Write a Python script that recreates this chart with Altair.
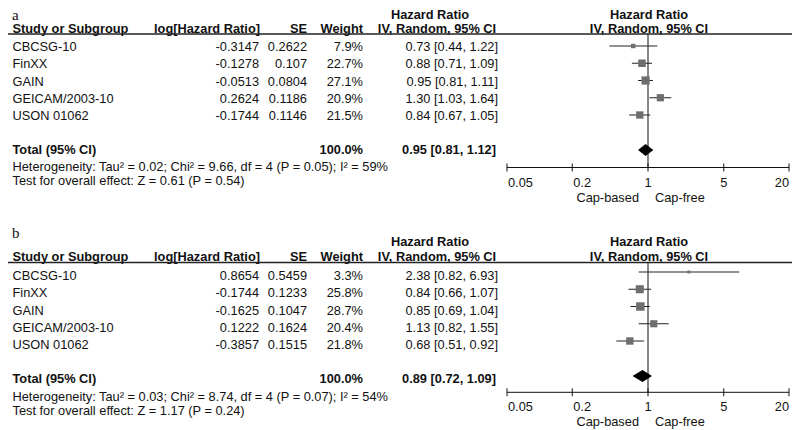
import altair as alt
import pandas as pd

# ---------------- data ----------------
studies = ["CBCSG-10", "FinXX", "GAIN", "GEICAM/2003-10", "USON 01062"]

a_loghr = [-0.3147, -0.1278, -0.0513, 0.2624, -0.1744]
a_se = [0.2622, 0.107, 0.0804, 0.1186, 0.1146]
a_weight = [7.9, 22.7, 27.1, 20.9, 21.5]
a_hr = [0.73, 0.88, 0.95, 1.30, 0.84]
a_lo = [0.44, 0.71, 0.81, 1.03, 0.67]
a_hi = [1.22, 1.09, 1.11, 1.64, 1.05]
a_total = [0.95, 0.81, 1.12]
a_het = "Heterogeneity: Tau² = 0.02; Chi² = 9.66, df = 4 (P = 0.05); I² = 59%"
a_test = "Test for overall effect: Z = 0.61 (P = 0.54)"

b_loghr = [0.8654, -0.1744, -0.1625, 0.1222, -0.3857]
b_se = [0.5459, 0.1233, 0.1047, 0.1624, 0.1515]
b_weight = [3.3, 25.8, 28.7, 20.4, 21.8]
b_hr = [2.38, 0.84, 0.85, 1.13, 0.68]
b_lo = [0.82, 0.66, 0.69, 0.82, 0.51]
b_hi = [6.93, 1.07, 1.04, 1.55, 0.92]
b_total = [0.89, 0.72, 1.09]
b_het = "Heterogeneity: Tau² = 0.03; Chi² = 8.74, df = 4 (P = 0.07); I² = 54%"
b_test = "Test for overall effect: Z = 1.17 (P = 0.24)"

panel_labels = ["a", "b"]
tick_values = [0.05, 0.2, 1, 5, 20]
tick_labels = ["0.05", "0.2", "1", "5", "20"]
favour_labels = ["Cap-based", "Cap-free"]
col_headers = ["Study or Subgroup", "log[Hazard Ratio]", "SE", "Weight",
               "Hazard Ratio", "IV, Random, 95% CI"]
total_label = "Total (95% CI)"
total_weight = "100.0%"

# ---------------- layout (local px) ----------------
W, H = 784, 422
FONT = "Liberation Sans, Arial, Helvetica, sans-serif"
SERIF = "Liberation Serif, Times New Roman, serif"
TXT = "#111111"
REG = 12.8
BOLD = 12.8
ROW_STEP = 17.25
LAYOUT = {
    "a": dict(label_y=0, hr_head_y=10.5, col_head_y=24.5, line_y=26, row0=39, mark_dy=-1,
              total_y=142, diamond_y=142, het_y=159, test_y=173, axis_y=159.5),
    "b": dict(label_y=217.5, hr_head_y=237.5, col_head_y=253, line_y=254.5, row0=268, mark_dy=-4,
              total_y=371.3, diamond_y=368, het_y=389, test_y=403, axis_y=384.3),
}
X_STUDY, X_LOG, X_SE, X_W, X_HRT, X_TOT = 4.5, 251, 299, 355, 490, 488
X_HRHEAD, X_IVHEAD, X_FHEAD = 422, 429, 641

XS = alt.Scale(type="log", domain=[0.05, 20], range=[499, 781], nice=False)
YS = alt.Scale(domain=[0, H], range=[0, H], nice=False, zero=False)

# ---------------- tables ----------------
panels = {
    "a": dict(loghr=a_loghr, se=a_se, w=a_weight, hr=a_hr, lo=a_lo, hi=a_hi,
              total=a_total, het=a_het, test=a_test),
    "b": dict(loghr=b_loghr, se=b_se, w=b_weight, hr=b_hr, lo=b_lo, hi=b_hi,
              total=b_total, het=b_het, test=b_test),
}

rows, prow, ticks, dia = [], [], [], []
for p in panel_labels:
    d, L = panels[p], LAYOUT[p]
    for i, s in enumerate(studies):
        yt = L["row0"] + i * ROW_STEP
        rows.append(dict(panel=p, name=s, loghr=str(d["loghr"][i]), se=str(d["se"][i]),
                         wtxt=f"{d['w'][i]:.1f}%",
                         hrtxt=f"{d['hr'][i]:.2f} [{d['lo'][i]:.2f}, {d['hi'][i]:.2f}]",
                         hr=d["hr"][i], lo=d["lo"][i], hi=d["hi"][i], w=d["w"][i],
                         y=yt, ym=yt + L["mark_dy"]))
    t = d["total"]
    prow.append(dict(panel=p, label=p, het=d["het"], test=d["test"],
                     tot=f"{t[0]:.2f} [{t[1]:.2f}, {t[2]:.2f}]",
                     ref=1.0, axlo=tick_values[0], axhi=tick_values[-1], **L))
    for v, lab in zip(tick_values, tick_labels):
        ticks.append(dict(panel=p, v=v, lab=lab, y1=L["axis_y"] - 4, y2=L["axis_y"] + 4,
                          yl=L["axis_y"] + 15))
    yc = L["diamond_y"]
    dia += [dict(panel=p, x=t[1], y1=yc, y2=yc),
            dict(panel=p, x=t[0], y1=yc - 6, y2=yc + 6),
            dict(panel=p, x=t[2], y1=yc, y2=yc)]

rows_df = pd.DataFrame(rows)
p_df = pd.DataFrame(prow)
t_df = pd.DataFrame(ticks)
d_df = pd.DataFrame(dia)


def Y(f):
    return alt.Y(f"{f}:Q", scale=YS, axis=None)


def X(f):
    return alt.X(f"{f}:Q", scale=XS, axis=None)


def text(df, field, x, yf, align="left", bold=False, size=REG, baseline="middle",
         font=FONT, value=None, dx=0):
    enc = dict(x=alt.value(x) if not isinstance(x, str) else X(x), y=Y(yf),
               text=alt.value(value) if value is not None else alt.Text(f"{field}:N"))
    return alt.Chart(df).mark_text(
        align=align, baseline=baseline, font=font, fontSize=size, dx=dx,
        fontWeight="bold" if bold else "normal", color=TXT).encode(**enc)


layers = []
# panel letters
layers.append(text(p_df, "label", 4, "label_y", font=SERIF, size=15, baseline="top"))
# headers
layers.append(text(p_df, None, X_STUDY, "col_head_y", bold=True, size=BOLD, baseline="alphabetic", value=col_headers[0]))
layers.append(text(p_df, None, X_LOG + 1, "col_head_y", align="right", bold=True, size=BOLD, baseline="alphabetic", value=col_headers[1]))
layers.append(text(p_df, None, X_SE, "col_head_y", align="right", bold=True, size=BOLD, baseline="alphabetic", value=col_headers[2]))
layers.append(text(p_df, None, X_W, "col_head_y", align="right", bold=True, size=BOLD, baseline="alphabetic", value=col_headers[3]))
layers.append(text(p_df, None, X_HRHEAD, "hr_head_y", align="center", bold=True, size=BOLD, baseline="alphabetic", value=col_headers[4]))
layers.append(text(p_df, None, X_IVHEAD, "col_head_y", align="center", bold=True, size=BOLD, baseline="alphabetic", value=col_headers[5]))
layers.append(text(p_df, None, X_FHEAD, "hr_head_y", align="center", bold=True, size=BOLD, baseline="alphabetic", value=col_headers[4]))
layers.append(text(p_df, None, X_FHEAD, "col_head_y", align="center", bold=True, size=BOLD, baseline="alphabetic", value=col_headers[5]))
# header line
layers.append(alt.Chart(p_df).mark_rule(color="#222", strokeWidth=1.3).encode(
    x=alt.value(0), x2=alt.value(W), y=Y("line_y")))
# study rows
layers.append(text(rows_df, "name", X_STUDY, "y"))
layers.append(text(rows_df, "loghr", X_LOG, "y", align="right"))
layers.append(text(rows_df, "se", X_SE, "y", align="right"))
layers.append(text(rows_df, "wtxt", X_W, "y", align="right"))
layers.append(text(rows_df, "hrtxt", X_HRT, "y", align="right"))
# totals
layers.append(text(p_df, None, X_STUDY, "total_y", bold=True, size=BOLD, value=total_label))
layers.append(text(p_df, None, X_W, "total_y", align="right", bold=True, size=BOLD, value=total_weight))
layers.append(text(p_df, "tot", X_TOT, "total_y", align="right", bold=True, size=BOLD))
layers.append(text(p_df, "het", X_STUDY, "het_y"))
layers.append(text(p_df, "test", X_STUDY, "test_y"))
# forest: reference line, axis, ticks
layers.append(alt.Chart(p_df).mark_rule(color="#111", strokeWidth=1).encode(
    x=X("ref"), y=Y("line_y"), y2="axis_y:Q"))
layers.append(alt.Chart(p_df).mark_rule(color="#111", strokeWidth=1).encode(
    x=X("axlo"), x2="axhi:Q", y=Y("axis_y")))
layers.append(alt.Chart(t_df).mark_rule(color="#111", strokeWidth=1).encode(
    x=X("v"), y=Y("y1"), y2="y2:Q"))
layers.append(text(t_df[t_df.v < 1], "lab", "v", "yl", align="left", dx=1))
layers.append(text(t_df[(t_df.v >= 1) & (t_df.v < 20)], "lab", "v", "yl", align="center"))
layers.append(text(t_df[t_df.v >= 20], "lab", "v", "yl", align="right"))
p_df2 = p_df.assign(cap_y=p_df.axis_y + 30)
layers.append(text(p_df2, None, "ref", "cap_y", align="right", dx=-9, value=favour_labels[0]))
layers.append(text(p_df2, None, "ref", "cap_y", align="left", dx=7, value=favour_labels[1]))
# CI lines and squares
layers.append(alt.Chart(rows_df).mark_rule(color="#222", strokeWidth=1).encode(
    x=X("lo"), x2="hi:Q", y=Y("ym")))
layers.append(alt.Chart(rows_df).mark_square(color="#6e6e6e", opacity=1).encode(
    x=X("hr"), y=Y("ym"),
    size=alt.Size("w:Q", scale=alt.Scale(domain=[0, 30], range=[0, 75]), legend=None)))
# diamonds
layers.append(alt.Chart(d_df).mark_area(color="black", orient="vertical").encode(
    x=X("x"), y=Y("y1"), y2="y2:Q", detail="panel:N"))

chart = alt.layer(*layers).properties(
    width=W, height=H, padding=0, autosize=alt.AutoSizeParams(type="none")
).configure_view(stroke=None)

chart.save("out.html", embed_options={"renderer": "svg", "actions": False})
